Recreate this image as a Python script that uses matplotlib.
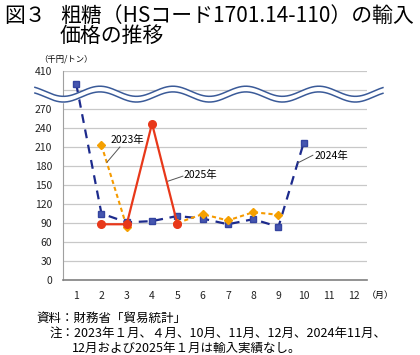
import numpy as np
import matplotlib
matplotlib.use("Agg")
from matplotlib import pyplot as plt

plt.rcParams['font.family'] = ['Noto Sans CJK JP', 'DejaVu Sans']

# data (thousand yen / ton), None = no imports
months = list(range(1, 13))
y2023 = [None, 213, 84, None, 90, 104, 94, 107, 103, None, None, None]
y2024 = [390, 105, 91, 93, 101, 97, 88, 96, 84, 217, None, None]
y2025 = [None, 88, 88, 247, 89, None, None, None, None, None, None, None]

yticks = [0, 30, 60, 90, 120, 150, 180, 210, 240, 270, 410]
xlabels = [str(m) for m in months]

BREAK_LO = 300     # values above this are shifted down onto the compressed part
BREAK_SHIFT = 80   # 410 -> 330


def to_pos(v):
    if v is None:
        return np.nan
    return v if v <= BREAK_LO else v - BREAK_SHIFT


def series(vals):
    return np.array([to_pos(v) for v in vals], dtype=float)


fig = plt.figure(figsize=(4.2, 3.55), dpi=100)
ax = fig.add_axes([63.5/420, 1 - 280/355, (367 - 63.5)/420, (280 - 71)/355])

grid_pos = [to_pos(v) for v in yticks] + [300]
for g in grid_pos:
    ax.axhline(g, color='#c8c8c8', lw=0.9, zorder=0)

ax.plot(months, series(y2024), color='#1c2a8c', lw=1.6, ls=(0, (4, 3)),
        marker='s', ms=5, mfc='#4656b0', mec='#3444a0', zorder=3)
ax.plot(months, series(y2023), color='#f59a00', lw=1.5, ls=(0, (2, 1.5)),
        marker='D', ms=4, mfc='#f5a000', mec='#f5a000', zorder=4)
ax.plot(months, series(y2025), color='#e8381a', lw=1.6, ls='-',
        marker='o', ms=5.5, mfc='#e8381a', mec='#e8381a', zorder=5)

ax.set_xlim(0.5, 12.5)
ax.set_ylim(0, 330)
ax.set_xticks(months)
ax.set_xticklabels(xlabels)
ax.set_yticks([to_pos(v) for v in yticks])
ax.set_yticklabels([str(v) for v in yticks])
ax.tick_params(length=0, labelsize=7.5, colors='#222222')
ax.tick_params(axis='x', pad=8)
ax.tick_params(axis='y', pad=8)
for s in ['top', 'right']:
    ax.spines[s].set_visible(False)
ax.spines['left'].set_color('#a0a0a0')
ax.spines['bottom'].set_color('#808080')
ax.spines['bottom'].set_linewidth(1.2)

# wavy break band
wx = np.linspace(-0.63, 13.13, 400)
wup = 298 + 8 * np.cos(2 * np.pi * (wx - 1.94) / 2.885)
wlo = wup - 9
ax.fill_between(wx, wlo, wup, color='white', zorder=6, clip_on=False)
ax.plot(wx, wup, color='#3a5a98', lw=1.1, zorder=7, clip_on=False)
ax.plot(wx, wlo, color='#3a5a98', lw=1.1, zorder=7, clip_on=False)

# labels with leader lines
ax.text(3.01, 221, '2023年', fontsize=7.5, ha='center', va='center', zorder=8)
ax.plot([2.73, 2.22], [210, 186], color='#555555', lw=0.7, zorder=8)
ax.text(5.93, 166, '2025年', fontsize=7.5, ha='center', va='center', zorder=8)
ax.plot([5.22, 4.63], [164, 156], color='#555555', lw=0.7, zorder=8)
ax.text(11.11, 196, '2024年', fontsize=7.5, ha='center', va='center', zorder=8)
ax.plot([10.36, 9.77], [197, 185], color='#555555', lw=0.7, zorder=8)

fig.text(367/420, 1 - 295/355, '（月）', fontsize=6.5, ha='left', va='center')
fig.text(39/420, 1 - 59/355, '（千円/トン）', fontsize=6, ha='left', va='center')

# title
fig.text(4/420, 1 - 16/355, '図３', fontsize=15, ha='left', va='center')
fig.text(60/420, 1 - 16/355, '粗糖（HSコード1701.14-110）の輸入', fontsize=15,
         ha='left', va='center')
fig.text(60/420, 1 - 36/355, '価格の推移', fontsize=15, ha='left', va='center')

# notes
fig.text(36/420, 1 - 318/355, '資料：財務省「貿易統計」', fontsize=9, ha='left', va='center')
fig.text(50/420, 1 - 333/355, '注：2023年１月、４月、10月、11月、12月、2024年11月、',
         fontsize=9, ha='left', va='center')
fig.text(72/420, 1 - 348/355, '12月および2025年１月は輸入実績なし。',
         fontsize=9, ha='left', va='center')

fig.savefig('out.png', dpi=100)
